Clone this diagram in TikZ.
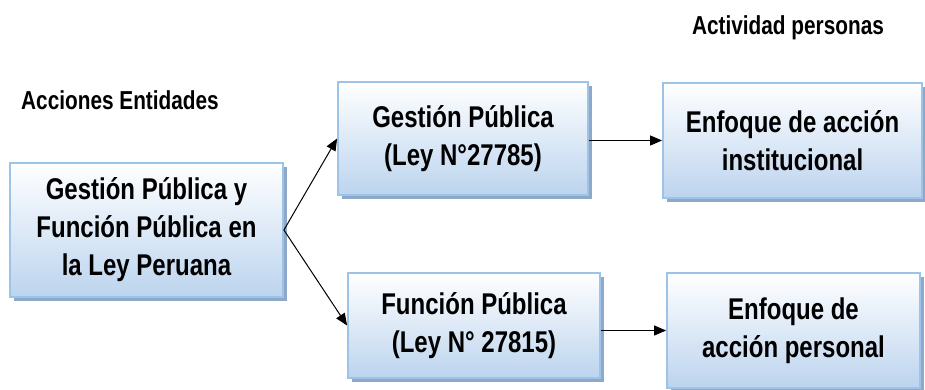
\documentclass[tikz,border=0pt]{standalone}
\usepackage{fontspec}
\setmainfont[FakeStretch=0.8]{Liberation Sans}
\usetikzlibrary{arrows.meta,shadows}
\definecolor{boxborder}{HTML}{9DC3E6}
\definecolor{boxbottom}{HTML}{BCD4EE}
\definecolor{shadowcol}{HTML}{8DA8C8}
\begin{document}
\begin{tikzpicture}[x=1pt,y=-1pt,
  box/.style={draw=boxborder, line width=1.8pt, top color=white, bottom color=boxbottom,
    align=center, inner sep=0pt, font=\bfseries\fontsize{30}{38}\selectfont,
    general shadow={fill=shadowcol, shadow xshift=4pt, shadow yshift=-4pt}},
  heading/.style={font=\bfseries\fontsize{26}{30}\selectfont, inner sep=0pt},
  conn/.style={line width=1pt, -{Triangle[length=12pt,width=10pt]}}]
\useasboundingbox (0,0) rectangle (925,390);
\fill[white] (0,0) rectangle (925,390);
\node[box, minimum width=273pt, minimum height=134pt] (b1) at (146.5,230) {Gestión Pública y\\Función Pública en\\la Ley Peruana};
\node[box, minimum width=250pt, minimum height=113pt] (b2) at (463,138.5) {Gestión Pública\\(Ley N°27785)};
\node[box, minimum width=259pt, minimum height=115pt] (b3) at (792.5,140.5) {Enfoque de acción\\institucional};
\node[box, minimum width=252pt, minimum height=105pt] (b4) at (474,325.5) {Función Pública\\(Ley N° 27815)};
\node[box, minimum width=253pt, minimum height=115pt] (b5) at (793.5,330.5) {Enfoque de\\acción personal};
\node[heading] (t1) at (120,100) {Acciones Entidades};
\node[heading] (t2) at (788,28) {Actividad personas};
\draw[conn] (b1.east) -- (b2.west);
\draw[conn] (b1.east) -- (b4.west);
\draw[conn] (b3.west -| b2.east) -- (b3.west);
\draw[conn] (b5.west -| b4.east) -- (b5.west);
\end{tikzpicture}
\end{document}
